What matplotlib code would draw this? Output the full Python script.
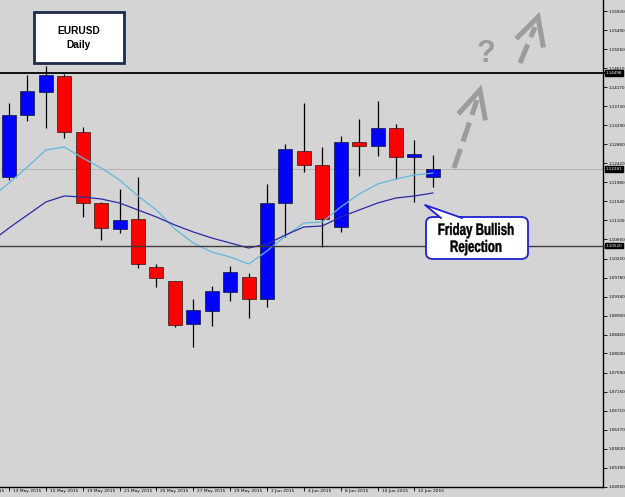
import matplotlib
matplotlib.use('Agg')
import matplotlib.pyplot as plt
import matplotlib.transforms as mtransforms
from matplotlib.patches import Rectangle, FancyBboxPatch, Polygon, PathPatch
from matplotlib.lines import Line2D
from matplotlib.textpath import TextPath
from matplotlib.font_manager import FontProperties

# EURUSD daily candles, 13 May 2015 -> 15 Jun 2015
opens  = [1.12101, 1.13531, 1.14062, 1.14431, 1.13139, 1.11501, 1.10902, 1.11132,
          1.10025, 1.09702, 1.08710, 1.09010, 1.09448, 1.09794, 1.09287, 1.11501,
          1.12701, 1.12378, 1.10948, 1.12909, 1.12816, 1.13231, 1.12563, 1.12101]
highs  = [1.13808, 1.14454, 1.14662, 1.14477, 1.13255, 1.11525, 1.11824, 1.12101,
          1.10094, 1.09702, 1.09287, 1.09587, 1.10048, 1.09887, 1.11940, 1.12862,
          1.13808, 1.12793, 1.13047, 1.13439, 1.13854, 1.13324, 1.12955, 1.12609]
lows   = [1.12032, 1.13393, 1.13231, 1.13001, 1.11179, 1.10648, 1.10809, 1.10002,
          1.09564, 1.08641, 1.08180, 1.08664, 1.09241, 1.08849, 1.09102, 1.10717,
          1.12217, 1.10487, 1.10833, 1.12124, 1.12586, 1.12055, 1.11525, 1.11871]
closes = [1.13531, 1.14085, 1.14454, 1.13139, 1.11501, 1.10925, 1.11109, 1.10094,
          1.09771, 1.08687, 1.09033, 1.09472, 1.09910, 1.09287, 1.11501, 1.12747,
          1.12378, 1.11132, 1.12909, 1.12816, 1.13231, 1.12563, 1.12632, 1.12281]

# moving averages, starting one bar earlier (12 May)
ma_fast = [1.11617, 1.11963, 1.12332, 1.12724, 1.12793, 1.12539, 1.12309, 1.12032,
           1.11663, 1.11340, 1.10902, 1.10579, 1.10371, 1.10256, 1.10094, 1.10394,
           1.10740, 1.11040, 1.11063, 1.11409, 1.11709, 1.11940, 1.12055, 1.12147, 1.12193]
ma_slow = [1.10602, 1.10925, 1.11225, 1.11525, 1.11663, 1.11640, 1.11594, 1.11501,
           1.11340, 1.11179, 1.10994, 1.10833, 1.10694, 1.10579, 1.10463, 1.10556,
           1.10763, 1.10948, 1.10971, 1.11179, 1.11340, 1.11501, 1.11617, 1.11663, 1.11732]

date_labels = ['11 May 2015', '13 May 2015', '15 May 2015', '19 May 2015', '21 May 2015',
               '25 May 2015', '27 May 2015', '29 May 2015', '2 Jun 2015', '4 Jun 2015',
               '8 Jun 2015', '10 Jun 2015', '12 Jun 2015']
price_ticks = [1.15930, 1.15490, 1.15050, 1.14610, 1.14170, 1.13730, 1.13290, 1.12860,
               1.12420, 1.11980, 1.11540, 1.11100, 1.10660, 1.10220, 1.09780, 1.09340,
               1.08900, 1.08460, 1.08030, 1.07590, 1.07150, 1.06710, 1.06270, 1.05830,
               1.05390, 1.04950]
resistance = 1.14498
support = 1.10520
bid = 1.12281

BG = '#d4d4d4'
fig = plt.figure(figsize=(6.25, 4.97), dpi=100, facecolor=BG)
ax = fig.add_axes([0, 10 / 497, 603 / 625, 487 / 497])
ax.set_facecolor(BG)

n = len(opens)
idx = list(range(n))

# wicks then bodies
ax.vlines(idx, lows, highs, color='black', lw=0.9, zorder=2)
for i in idx:
    up = closes[i] >= opens[i]
    ax.bar(i, abs(closes[i] - opens[i]), bottom=min(opens[i], closes[i]), width=0.76,
           color='#0000ff' if up else '#ff0000', edgecolor='black', lw=0.4, zorder=3)

ma_idx = list(range(-1, n))
ax.plot(ma_idx, ma_fast, color='#5fb8dc', lw=0.9, zorder=4)
ax.plot(ma_idx, ma_slow, color='#2a2aa6', lw=0.9, zorder=4)

# horizontal levels
ax.axhline(resistance, xmax=1.006, color='black', lw=1.3, zorder=5, clip_on=False)
ax.axhline(support, xmax=1.006, color='#3c3c3c', lw=1.0, zorder=5, clip_on=False)
ax.axhline(bid, color='#b2b2b2', lw=0.7, zorder=1)

# right price axis
ax.yaxis.tick_right()
ax.set_yticks(price_ticks)
ax.set_yticklabels([f'{v:.5f}' for v in price_ticks])
ax.tick_params(axis='y', length=3, width=0.6, pad=0.8, labelsize=3.0, colors='black')

# date axis
tick_pos = [2 * k - 2 for k in range(len(date_labels))]
ax.set_xticks(tick_pos)
ax.set_xticklabels([''] * len(tick_pos))
ax.tick_params(axis='x', length=3, width=0.6, direction='out')

# limits after the ticks, set_xticks would widen them
ax.set_xlim(-0.488, 32.23)
ax.set_ylim(1.0495, 1.16184)

for v in [resistance, bid, support]:
    ax.text(1.004, v, f'{v:.5f}', transform=ax.get_yaxis_transform(), fontsize=3.0,
            color='white', va='center', ha='left', zorder=10,
            bbox=dict(facecolor='black', edgecolor='black', pad=0.6))

shift = mtransforms.ScaledTranslation(4 / 100, -2 / 100, fig.dpi_scale_trans)
for p, lab in zip(tick_pos, date_labels):
    ax.text(p, 0, lab, transform=ax.get_xaxis_transform() + shift, fontsize=3.2,
            ha='left', va='top', clip_on=False)

for s in ['left', 'top']:
    ax.spines[s].set_visible(False)
for s in ['right', 'bottom']:
    ax.spines[s].set_color('black')
    ax.spines[s].set_linewidth(1.0)


def px(x, y):
    # pixel position of the screenshot -> axes fraction
    return x / 603, 1 - y / 487


# title box
x0, y0 = px(34, 63)
x1, y1 = px(124, 12)
ax.add_patch(Rectangle((x0, y0), x1 - x0, y1 - y0, transform=ax.transAxes, facecolor='white',
                       edgecolor='#1f2b4d', lw=2, zorder=8, clip_on=False))
ax.text(*px(79, 31), 'EURUSD', transform=ax.transAxes, ha='center', va='center',
        fontsize=7.3, fontweight='bold', family='Liberation Sans', zorder=9)
ax.text(*px(79, 45), 'Daily', transform=ax.transAxes, ha='center', va='center',
        fontsize=7.3, fontweight='bold', family='Liberation Sans', zorder=9)

# callout
bx0, by0 = px(426, 259)
bx1, by1 = px(528, 217)
ax.add_patch(FancyBboxPatch((bx0, by0), bx1 - bx0, by1 - by0, transform=ax.transAxes,
                            boxstyle='round,pad=0,rounding_size=0.012', facecolor='white',
                            edgecolor='#2020d0', lw=1.3, zorder=8))
tip, b1, b2 = px(425, 205), px(441, 218), px(462, 218)
ax.add_patch(Polygon([tip, b1, b2], closed=True, transform=ax.transAxes, facecolor='white',
                     edgecolor='none', zorder=8.5))
ax.add_line(Line2D([b1[0], tip[0], b2[0]], [b1[1], tip[1], b2[1]], transform=ax.transAxes,
                   color='#2020d0', lw=1.3, zorder=8.6))

# condensed bold text: squeeze a bold path horizontally
bold = FontProperties(family='Liberation Sans', weight='bold')


def narrow_text(s, cx, cy, em=16.5, sx=0.70):
    path = TextPath((0, 0), s, size=em, prop=bold)
    ext = path.get_extents()
    w = ext.width * sx
    cap = 0.716 * em
    tr = mtransforms.Affine2D().translate(-ext.x0, 0).scale(sx, 1).translate(cx - w / 2, 497 - cy - cap / 2)
    fig.add_artist(PathPatch(path, transform=tr, facecolor='black', edgecolor='black',
                             lw=0.3, zorder=20))


narrow_text('Friday Bullish', 476, 229)
narrow_text('Rejection', 476, 246)

# dashed arrows and question mark
GREY = '#9c9c9c'


def arrow(start, end, tip, left, right):
    s, e = px(*start), px(*end)
    ax.add_line(Line2D([s[0], e[0]], [s[1], e[1]], transform=ax.transAxes, color=GREY,
                       lw=3.6, dashes=(4, 1.6), solid_capstyle='butt', dash_capstyle='butt',
                       zorder=7))
    t, l, r = px(*tip), px(*left), px(*right)
    ax.add_line(Line2D([l[0], t[0], r[0]], [l[1], t[1], r[1]], transform=ax.transAxes,
                       color=GREY, lw=3.6, solid_joinstyle='miter', zorder=7))


arrow((454, 168), (477, 100), (480, 90), (460, 112), (485, 118))
arrow((520, 63), (535, 27), (538, 17), (518, 37), (543, 45))
ax.text(*px(486, 54), '?', transform=ax.transAxes, ha='center', va='center', fontsize=22,
        fontweight='bold', color=GREY, family='Liberation Sans', zorder=7)

fig.savefig('out.png', dpi=100, facecolor=BG)
